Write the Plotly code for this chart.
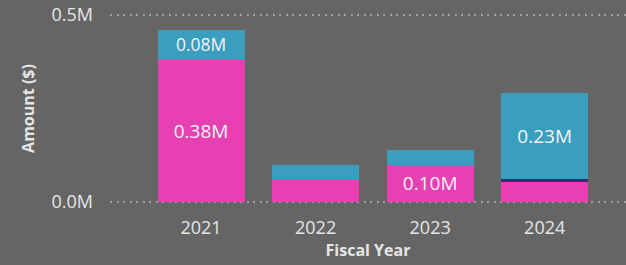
import plotly.graph_objects as go

years = ["2021", "2022", "2023", "2024"]
pink_vals = [0.38, 0.06, 0.10, 0.053]
navy_vals = [0.0, 0.0, 0.0, 0.008]
teal_vals = [0.08, 0.04, 0.04, 0.23]
y_ticks = [0.0, 0.5]
y_tick_labels = ["0.0M", "0.5M"]

PINK = "#E640B2"
NAVY = "#33296E"
TEAL = "#3A9EBF"
BG = "#656565"
TXT = "#E6E6E6"
FONT = "Open Sans"

def labels(vals, thr=0.07):
    return [f"{v:.2f}M" if v >= thr else "" for v in vals]

fig = go.Figure()
for name, vals, col in [("A", pink_vals, PINK), ("B", navy_vals, NAVY), ("C", teal_vals, TEAL)]:
    fig.add_trace(go.Bar(
        x=years, y=vals, name=name, marker=dict(color=col, line=dict(width=0)),
        text=labels(vals), textposition="inside", insidetextanchor="middle",
        textangle=0, textfont=dict(family=FONT, size=19, color="#F4F4F4"),
        cliponaxis=False, hoverinfo="skip",
    ))

fig.update_layout(
    barmode="stack", bargap=0.24,
    width=626, height=265,
    paper_bgcolor=BG, plot_bgcolor=BG,
    margin=dict(l=110, r=0, t=14, b=62),
    showlegend=False,
    font=dict(family=FONT, color=TXT),
    uniformtext=dict(mode=False),
)
fig.update_xaxes(
    range=[-0.795, 3.71], showgrid=False, zeroline=False, showline=False,
    tickfont=dict(size=18, color=TXT), ticks="outside", ticklen=8, tickcolor=BG,
    title=dict(text="<b>Fiscal Year</b>", font=dict(size=16, color=TXT), standoff=2),
)
fig.update_yaxes(
    range=[-0.003, 0.503], tickvals=y_ticks, ticktext=y_tick_labels,
    showgrid=True, gridcolor="#A0A0A0", griddash="2px,4.5px", gridwidth=2,
    zeroline=False, showline=False,
    tickfont=dict(size=18, color=TXT), ticklabelstandoff=16,
    title=dict(text="<b>Amount ($)</b>", font=dict(size=16, color=TXT), standoff=12),
)
fig.write_html(
    "out.html",
    config={"displayModeBar": False},
    post_script="document.body.style.margin='0';document.body.style.background='%s';" % BG,
)
